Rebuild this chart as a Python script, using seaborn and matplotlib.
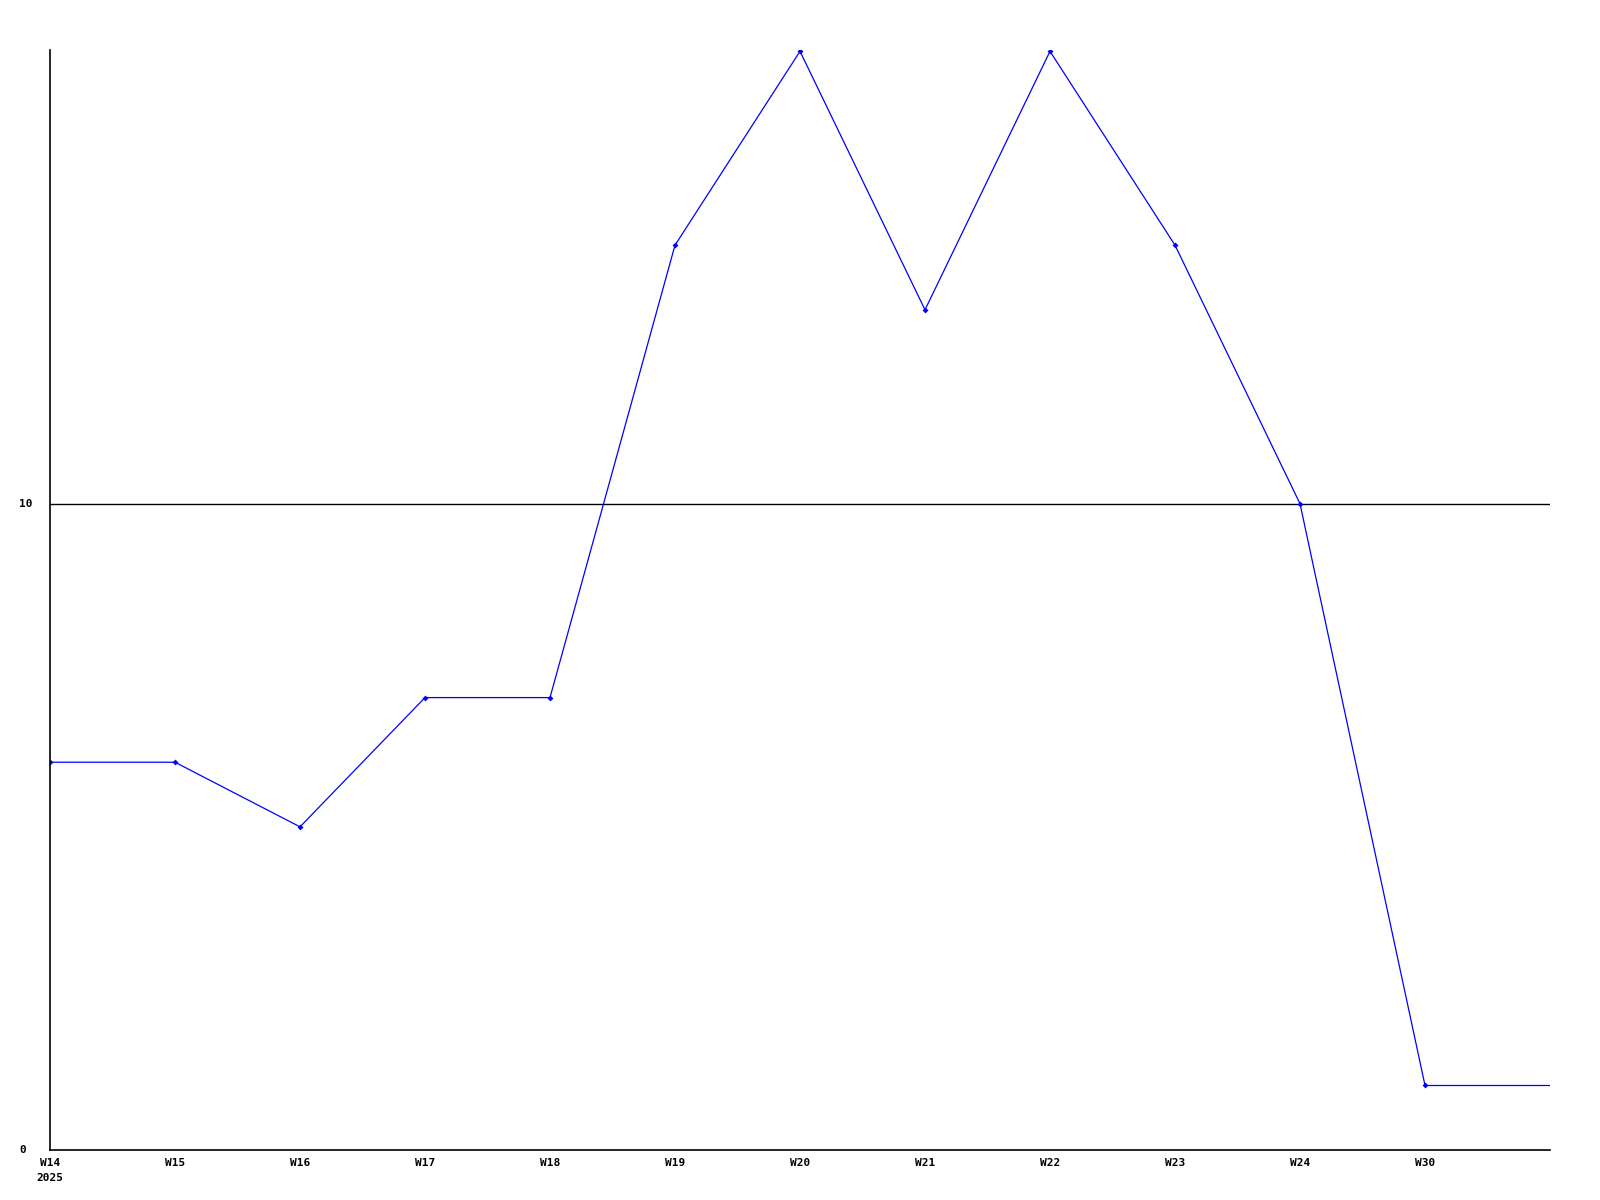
import numpy as np
import pandas as pd
import matplotlib
matplotlib.use("Agg")
import matplotlib.pyplot as plt
import seaborn as sns

weeks = ["W14", "W15", "W16", "W17", "W18", "W19", "W20", "W21", "W22", "W23", "W24", "W30"]
values = [6, 6, 5, 7, 7, 14, 17, 13, 17, 14, 10, 1]
year_label = "2025"

sns.set_theme(style="white")
plt.rcParams["font.family"] = ["DejaVu Sans Mono"]
plt.rcParams["text.color"] = "black"

df = pd.DataFrame({"pos": np.arange(len(weeks)), "value": values})
# line runs on flat to the right edge after the last point
tail = pd.DataFrame({"pos": [len(weeks) - 1, len(weeks)], "value": [values[-1], values[-1]]})

fig = plt.figure(figsize=(16, 12), dpi=100)
ax = fig.add_axes([50 / 1600, 50 / 1200, 1500 / 1600, 1100 / 1200])

sns.lineplot(data=df, x="pos", y="value", ax=ax, color="#0000ff", linewidth=0.9,
             marker="D", markersize=3, markeredgewidth=0)
sns.lineplot(data=tail, x="pos", y="value", ax=ax, color="#0000ff", linewidth=0.9)

ax.set_xlim(0, len(weeks))
ax.set_ylim(0, max(values) + 0.02)
ax.axhline(10, color="black", linewidth=1, zorder=0)

for s in ["top", "right"]:
    ax.spines[s].set_visible(False)
for s in ["left", "bottom"]:
    ax.spines[s].set_color("black")
    ax.spines[s].set_linewidth(1.2)

ax.set_xticks(range(len(weeks)))
ax.set_xticklabels([])
ax.set_yticks([0, 10])
ax.set_yticklabels([])
ax.tick_params(length=0)
ax.set_xlabel("")
ax.set_ylabel("")

for i, w in enumerate(weeks):
    ax.annotate(w, xy=(i, 0), xycoords="data", xytext=(0, -9), textcoords="offset points",
                ha="center", va="center", fontsize=8, fontweight="bold", color="black")
ax.annotate(year_label, xy=(0, 0), xycoords="data", xytext=(0, -20), textcoords="offset points",
            ha="center", va="center", fontsize=8, fontweight="bold", color="black")
for v in [0, 10]:
    ax.annotate(str(v), xy=(0, v), xycoords="data", xytext=(-22, 0), textcoords="offset points",
                ha="left", va="center", fontsize=8, fontweight="bold", color="black")

fig.savefig("out.png", dpi=100)
